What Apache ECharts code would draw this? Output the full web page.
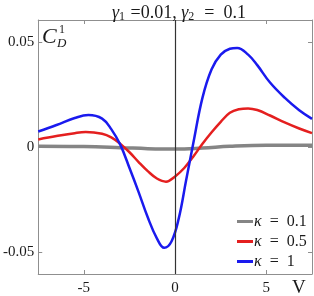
<!DOCTYPE html>
<html><head><meta charset="utf-8">
<script src="https://cdn.jsdelivr.net/npm/echarts@6/dist/echarts.min.js"></script>
<style>html,body{margin:0;padding:0;background:#fff}#c{width:314px;height:296px}</style>
</head><body><div id="c"></div>
<script>
const xTicks = [-5, 0, 5];
const yTicks = [-0.05, 0, 0.05];
const xTickLabels = ['-5', '0', '5'];
const yTickLabels = ['-0.05', '0', '0.05'];
const seriesNames = ['κ = 0.1', 'κ = 0.5', 'κ = 1'];

const vGray = [-7.5, -5, -3, -1.5, 0, 1.5, 3, 5, 7.5];
const cGray = [0.0003, 0.0002, -0.0003, -0.0008, -0.0010, -0.0005, 0.0003, 0.0008, 0.0008];

const vRed = [-7.5, -6.5, -5.5, -4.9, -4.0, -3.5, -3.0, -2.5, -2.0, -1.5, -1.0, -0.5, 0.0, 0.5, 1.0, 1.5, 2.0, 2.5, 3.0, 3.5, 4.0, 4.5, 5.2, 6.0, 6.8, 7.5];
const cRed = [0.0036, 0.0052, 0.0066, 0.0071, 0.0063, 0.0046, 0.0015, -0.0025, -0.0072, -0.0115, -0.0150, -0.0165, -0.0140, -0.0100, -0.0045, 0.0015, 0.0070, 0.0120, 0.0163, 0.0180, 0.0184, 0.0176, 0.0150, 0.0117, 0.0088, 0.0066];

const vBlue = [-7.5, -6.5, -5.5, -4.75, -4.0, -3.5, -3.0, -2.5, -2.0, -1.5, -1.0, -0.6, -0.2, 0.2, 0.6, 1.0, 1.5, 2.0, 2.5, 3.0, 3.4, 4.0, 4.5, 5.2, 6.0, 6.8, 7.5];
const cBlue = [0.0074, 0.0105, 0.0138, 0.0152, 0.0135, 0.0085, 0.0010, -0.0100, -0.0215, -0.0335, -0.0435, -0.0480, -0.0450, -0.0340, -0.0160, 0.0020, 0.0235, 0.0370, 0.0440, 0.0468, 0.0472, 0.0440, 0.0390, 0.0307, 0.0235, 0.0175, 0.0134];

const zip = (a, b) => a.map((v, i) => [v, b[i]]);
const serif = 'Liberation Serif';
const frame = '#8f8f8f';
const ink = '#1a1a1a';

const chart = echarts.init(document.getElementById('c'), null, {renderer: 'canvas'});
const axisCommonX = {
  type: 'value', min: -7.5, max: 7.5,
  splitLine: {show: false},
  axisLine: {show: true, onZero: false, lineStyle: {color: frame, width: 1}},
  axisTick: {show: true, inside: true, length: 4, customValues: xTicks, lineStyle: {color: frame}},
};
const axisCommonY = {
  type: 'value', min: -0.0605, max: 0.0605,
  splitLine: {show: false},
  axisLine: {show: true, onZero: false, lineStyle: {color: frame, width: 1}},
  axisTick: {show: true, inside: true, length: 4, customValues: yTicks, lineStyle: {color: frame}},
};
chart.setOption({
  animation: false,
  backgroundColor: '#fff',
  grid: {left: 38, right: 2, top: 20, bottom: 20, containLabel: false},
  title: {
    text: '{g|γ}{s|1}{t| =0.01, }{g|γ}{s|2}{t|  =  0.1}',
    left: 174, top: -1, textAlign: 'center',
    textStyle: {
      fontFamily: serif, fontSize: 18, fontWeight: 'normal', color: ink,
      rich: {
        t: {fontFamily: serif, fontSize: 18, color: ink},
        g: {fontFamily: serif, fontSize: 18, fontStyle: 'italic', color: ink},
        s: {fontFamily: serif, fontSize: 12, color: ink, verticalAlign: 'bottom', padding: [7, 1, 0, 0]}
      }
    }
  },
  legend: {
    orient: 'vertical', left: 237, top: 213, padding: 0,
    icon: 'rect', itemWidth: 16, itemHeight: 3, itemGap: 3,
    data: seriesNames,
    formatter: n => '{k|κ}{t|' + n.slice(1).replace('=', ' = ') + '}',
    textStyle: {fontFamily: serif, fontSize: 16, color: ink, lineHeight: 17, padding: [0, 0, 0, -4],
      rich: {
        k: {fontFamily: serif, fontSize: 16, fontStyle: 'italic', color: ink, lineHeight: 17},
        t: {fontFamily: serif, fontSize: 16, color: ink, lineHeight: 17}
      }}
  },
  xAxis: [
    Object.assign({}, axisCommonX, {position: 'bottom',
      axisLabel: {show: true, customValues: xTicks, margin: 7, fontFamily: serif, fontSize: 15, color: ink,
        formatter: v => xTickLabels[xTicks.indexOf(v)] ?? ''}}),
    Object.assign({}, axisCommonX, {position: 'top', axisLabel: {show: false}})
  ],
  yAxis: [
    Object.assign({}, axisCommonY, {position: 'left',
      axisLabel: {show: true, customValues: yTicks, margin: 4, fontFamily: serif, fontSize: 15, color: ink,
        formatter: v => yTickLabels[yTicks.findIndex(t => Math.abs(t - v) < 1e-9)] ?? ''}}),
    Object.assign({}, axisCommonY, {position: 'right', axisLabel: {show: false}})
  ],
  series: [
    {type: 'line', name: 'zero', data: [], xAxisIndex: 0, yAxisIndex: 0, z: 1, silent: true,
      markLine: {silent: true, symbol: 'none', label: {show: false},
        lineStyle: {color: '#333', width: 1.2, type: 'solid'}, data: [{xAxis: 0}]}},
    {type: 'line', name: seriesNames[0], data: zip(vGray, cGray), smooth: 0.4, showSymbol: false,
      color: '#858585', lineStyle: {width: 3.5, color: '#858585'}, z: 2},
    {type: 'line', name: seriesNames[1], data: zip(vRed, cRed), smooth: 0.4, showSymbol: false,
      color: '#e41f1f', lineStyle: {width: 2.5, color: '#e41f1f'}, z: 3},
    {type: 'line', name: seriesNames[2], data: zip(vBlue, cBlue), smooth: 0.4, showSymbol: false,
      color: '#1a1aee', lineStyle: {width: 2.5, color: '#1a1aee'}, z: 4}
  ],
  graphic: [
    {type: 'text', left: 42, top: 26, style: {text: 'C', fontFamily: serif, fontStyle: 'italic', fontSize: 22, fill: ink}},
    {type: 'text', left: 59, top: 24, style: {text: '1', fontFamily: serif, fontSize: 12, fill: ink}},
    {type: 'text', left: 57, top: 37, style: {text: 'D', fontFamily: serif, fontStyle: 'italic', fontSize: 13, fill: ink}},
    {type: 'text', left: 292, top: 279, style: {text: 'V', fontFamily: serif, fontSize: 19, fill: ink}}
  ]
});
</script></body></html>
